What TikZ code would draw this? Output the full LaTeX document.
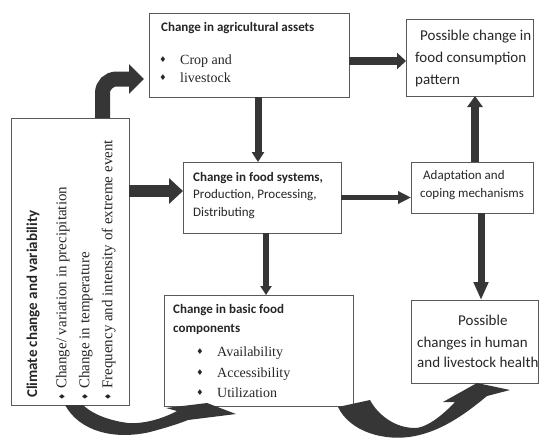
\documentclass[tikz,border=0pt]{standalone}
\usepackage{fontspec}
\setmainfont{Carlito}
\newfontfamily\serif{Liberation Serif}
\newfontfamily\sym{DejaVu Sans}
\usetikzlibrary{arrows.meta}
\definecolor{arr}{HTML}{363636}
\tikzset{
  box/.style={draw=black!65, line width=0.6pt, inner sep=0pt, outer sep=0pt, anchor=north west},
  txt/.style={anchor=base west, inner sep=0pt, text=black!85},
  tit/.style={txt, font=\bfseries\fontsize{13}{15}\selectfont},
  sans/.style={txt, font=\fontsize{#1}{#1}\selectfont},
  tms/.style={txt, font=\serif\fontsize{14}{16}\selectfont},
  dot/.style={inner sep=0pt, text=black!85, font=\sym\fontsize{8}{8}\selectfont},
  fat/.style={draw=arr, line width=#1},
}
\begin{document}
\begin{tikzpicture}[x=1pt, y=-1pt]
\useasboundingbox (0,0) rectangle (540,437);

\node[box, minimum width=118, minimum height=287] (clim) at (11,118) {};
\node[box, minimum width=200, minimum height=84] (agri) at (149,13) {};
\node[box, minimum width=127, minimum height=77] (cons) at (406,19) {};
\node[box, minimum width=158, minimum height=71] (food) at (183,162) {};
\node[box, minimum width=122, minimum height=51] (adapt) at (411,162) {};
\node[box, minimum width=189, minimum height=111] (basic) at (164,295) {};
\node[box, minimum width=127, minimum height=83] (health) at (411,300) {};

\node[tit, rotate=90, font=\bfseries\fontsize{15}{17}\selectfont] (ctitle) at (37,398) {Climate change and variability};
\foreach \x/\t in {62/{Change/ variation in precipitation}, 85/{Change in temperature}, 108/{Frequency and intensity of extreme event}}
{
    \node[dot, rotate=90] at (\x,397) {♦};
    \node[tms, rotate=90, font=\serif\fontsize{15}{17}\selectfont] at (\x+4.3,389) {\t};
}

\node[tit] (atitle) at (161,31) {Change in agricultural assets};
\foreach \y/\t in {60/Crop and, 78/livestock}
{
    \node[dot] at (163,\y) {♦};
    \node[tms] at (180,\y+4.5) {\t};
}

\node[sans=15] (c1) at (420,40) {Possible change in};
\node[sans=15] (c2) at (415,62) {food consumption};
\node[sans=15] (c3) at (415,84) {pattern};

\node[tit] (ftitle) at (193,181) {Change in food systems,};
\node[sans=13] (f2) at (193,198) {Production, Processing,};
\node[sans=13] (f3) at (193,216) {Distributing};

\node[sans=13] (ad1) at (423,179.5) {Adaptation and};
\node[sans=13] (ad2) at (420,197.5) {coping mechanisms};

\node[tit] (btitle) at (173,313.5) {Change in basic food};
\node[tit] (btitle2) at (173,332.5) {components};
\foreach \y/\t in {352/Availability, 373/Accessibility, 393/Utilization}
{
    \node[dot] at (200,\y) {♦};
    \node[tms] at (217,\y+4.5) {\t};
}

\node[sans=15] (h1) at (458,325) {Possible};
\node[sans=15] (h2) at (417,347) {changes in human};
\node[sans=15] (h3) at (417,367) {and livestock health};

\coordinate (p1) at ([yshift=6.5pt]food.west);
\draw[fat=12pt, -{Triangle[length=14pt,width=25pt]}] (clim.east |- p1) -- (p1);
\coordinate (p2) at ([yshift=-6pt]agri.east);
\draw[fat=8pt, -{Triangle[length=9pt,width=16pt]}] (p2) -- (cons.west |- p2);
\coordinate (p3) at ([xshift=9pt]agri.south);
\draw[fat=7pt, -{Triangle[length=10pt,width=12pt]}] (p3) -- (food.north -| p3);
\draw[fat=5pt, -{Triangle[length=13pt,width=12pt]}] (food.east) -- (adapt.west |- food.east);
\coordinate (p4) at ([xshift=3pt]adapt.north);
\draw[fat=8pt, -{Triangle[length=11pt,width=15pt]}] (p4) -- (cons.south -| p4);
\coordinate (p5) at ([xshift=4pt]food.south);
\draw[fat=6pt, -{Triangle[length=9pt,width=11pt]}] (p5) -- (basic.north -| p5);
\coordinate (p6) at ([xshift=9pt]adapt.south);
\draw[fat=7pt, -{Triangle[length=18pt,width=14pt]}] (p6) -- (health.north -| p6);

\coordinate (p7) at ([xshift=32.5pt]clim.north);
\coordinate (p8) at ([xshift=-5pt, yshift=-24pt]agri.west);
\draw[fat=15pt, rounded corners=14pt, -{Triangle[length=15pt,width=29pt]}] (p7) |- (p8);

\fill[arr] (65,405) .. controls (80,432) and (115,440) .. (150,432) .. controls (165,428) and (178,424) .. (188,420) -- (236,414) -- (207,403) -- (166,408) -- (177,411) .. controls (160,420) and (142,424) .. (128,423) .. controls (105,420) and (90,412) .. (83,405) -- cycle;
\fill[arr] (338,407) .. controls (350,432) and (385,442) .. (415,436) .. controls (445,430) and (470,410) .. (487,396) -- (510,390) -- (477,383) -- (443,402) -- (455,402) .. controls (440,418) and (425,428) .. (415,428) .. controls (395,428) and (378,415) .. (370,400) -- cycle;
\end{tikzpicture}
\end{document}
